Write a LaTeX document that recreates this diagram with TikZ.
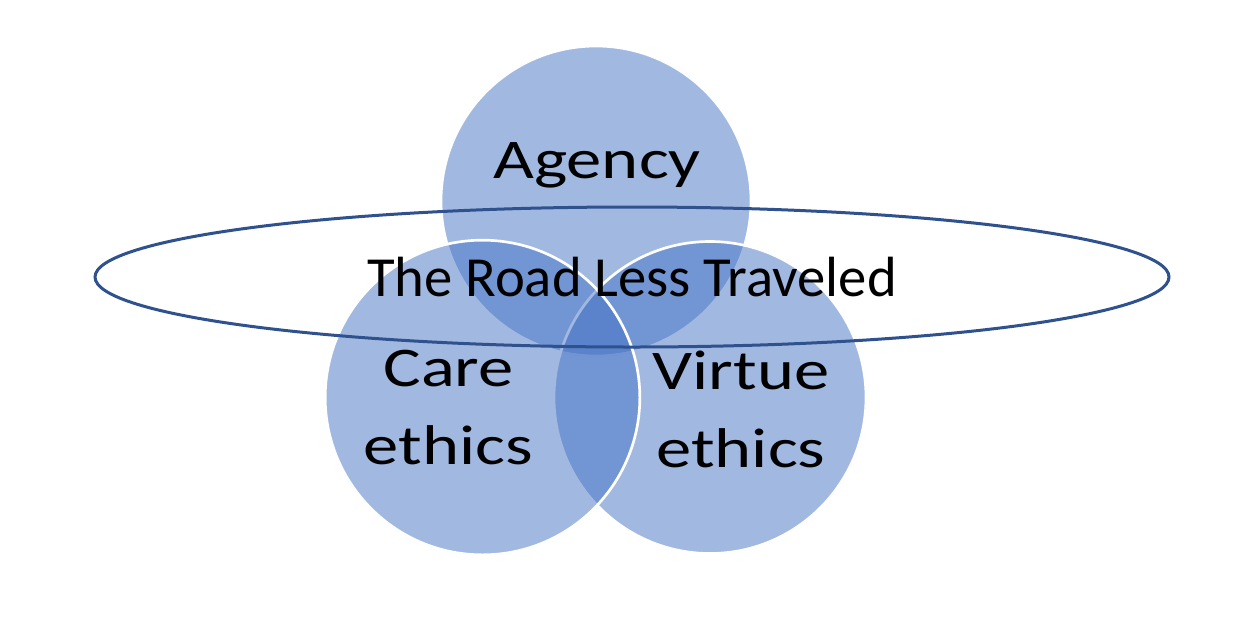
\documentclass[tikz,border=0pt]{standalone}
\usepackage{fontspec}
\setmainfont{Carlito}
\newfontfamily\widelabel[FakeStretch=1.26]{Carlito}
\usepackage{tikz}
\usetikzlibrary{shapes.geometric}
\definecolor{vennfill}{HTML}{4472C4}
\definecolor{roadline}{HTML}{2F528F}

\begin{document}
\begin{tikzpicture}[x=0.75pt, y=-0.75pt,
      vennset/.style={circle, draw=white, line width=2pt, fill=vennfill,
                      fill opacity=0.5, inner sep=0pt},
      vennlabel/.style={font=\widelabel\fontsize{42}{58.5}\selectfont,
                        align=center, text=black, inner sep=0pt},
      roadring/.style={ellipse, draw=roadline, line width=2.25pt,
                       minimum width=805.5pt, minimum height=105pt,
                       font=\fontsize{42.5}{50}\selectfont, inner sep=0pt}]

    \useasboundingbox (0,0) rectangle (1256,622);

    % the three sets, top one first, then right, then left
    \node[vennset, minimum size=232.5pt] (agencyset) at (596,201) {};
    \foreach \nm/\x/\d in {virtueset/710/234pt, careset/482.5/236pt}
      \node[vennset, minimum size=\d] (\nm) at (\x,397.5) {};

    \node[vennlabel, anchor=base] (agency) at (597,178) {Agency};
    \node[vennlabel, anchor=base] (care) at (448.5,464) {Care\\ethics};
    \node[vennlabel, anchor=base] (virtue) at (741,467) {Virtue\\ethics};

    \node[roadring] (road) at (632,277) {The Road Less Traveled};
  \end{tikzpicture}
\end{document}
